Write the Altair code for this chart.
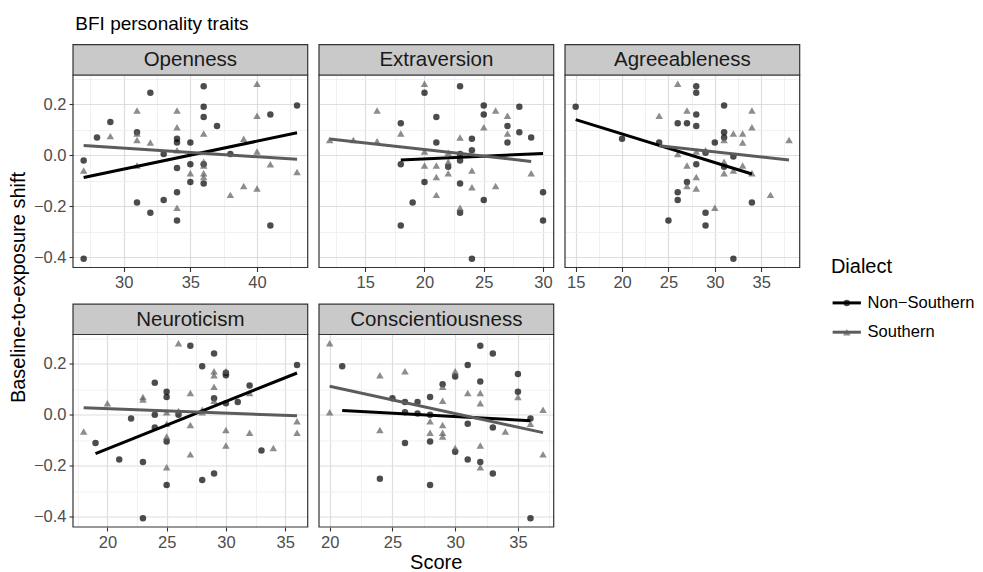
import altair as alt
import pandas as pd

FONT = "Liberation Sans"
INK = "#333333"
W = 234.7          # panel plot width
H = 192.5          # panel plot height

traits = ["Openness", "Extraversion", "Agreeableness", "Neuroticism", "Conscientiousness"]
dialects = ["Non−Southern", "Southern"]
dialect_colors = ["#000000", "#5C5C5C"]
dialect_shapes = ["circle", "triangle-up"]

# Openness
openness_ns_score = [27, 27, 28, 29, 31, 31, 32, 32, 33, 33, 34, 34, 34, 34, 34, 35, 35, 35,
                     36, 36, 36, 36, 36, 37, 38, 41, 41, 43]
openness_ns_shift = [-0.405, -0.02, 0.07, 0.13, 0.09, -0.185, 0.245, -0.225, 0.005, -0.175,
                     0.065, 0.05, -0.05, -0.145, -0.255, 0.05, -0.035, -0.105, 0.27, 0.19,
                     0.15, -0.035, -0.11, 0.115, 0.005, 0.16, -0.275, 0.195]
openness_s_score = [27, 29, 31, 31, 31, 31, 32, 34, 34, 34, 34, 35, 36, 36, 36, 36, 36, 38,
                    39, 39, 40, 40, 40, 40, 41, 43]
openness_s_shift = [-0.06, 0.075, 0.175, 0.085, 0.06, -0.04, 0.05, 0.175, 0.11, 0.02, -0.205,
                    -0.07, 0.085, -0.025, -0.04, -0.07, -0.085, -0.155, 0.065, -0.12, 0.28,
                    0.155, 0.015, -0.13, -0.035, -0.065]

# Extraversion
extraversion_ns_score = [18, 18, 18, 19, 20, 20, 21, 21, 22, 23, 23, 23, 23, 23, 24, 24, 24,
                         25, 25, 25, 27, 27, 28, 28, 29, 30, 30]
extraversion_ns_shift = [0.125, -0.035, -0.275, -0.185, 0.245, -0.105, 0.15, 0.05, -0.045,
                         0.27, 0.005, -0.02, -0.11, -0.225, 0.065, 0.02, -0.405, 0.195, 0.16,
                         -0.175, 0.115, 0.05, 0.19, 0.09, 0.07, -0.145, -0.255]
extraversion_s_score = [12, 14, 16, 16, 18, 20, 20, 20, 21, 21, 21, 22, 22, 22, 23, 23, 24,
                        24, 25, 26, 26, 27, 27, 29]
extraversion_s_shift = [0.06, 0.06, 0.175, 0.055, 0.085, 0.28, 0.015, -0.04, -0.04, -0.085,
                        -0.155, 0.01, -0.025, -0.07, 0.07, -0.205, -0.06, -0.125, 0.11, 0.175,
                        -0.12, 0.155, 0.085, -0.07]

# Agreeableness
agreeableness_ns_score = [15, 20, 24, 25, 26, 26, 26, 27, 27, 28, 28, 28, 28, 28, 29, 29, 29,
                          30, 31, 31, 31, 31, 32, 32, 34]
agreeableness_ns_shift = [0.19, 0.065, 0.05, -0.255, 0.125, -0.145, -0.175, 0.125, -0.105,
                          0.27, 0.245, 0.16, 0.115, -0.035, 0.01, -0.225, -0.275, 0.05, 0.195,
                          0.09, 0.07, -0.045, -0.005, -0.405, -0.185]
agreeableness_s_score = [24, 26, 26, 27, 27, 27, 28, 28, 28, 29, 30, 31, 31, 31, 32, 32, 33,
                         33, 33, 34, 34, 34, 36, 38]
agreeableness_s_shift = [0.155, 0.28, 0.005, 0.175, -0.04, -0.12, 0.015, -0.085, -0.13, 0.02,
                         -0.205, 0.06, -0.025, -0.07, 0.085, -0.06, 0.085, 0.05, -0.04, 0.175,
                         0.11, -0.07, -0.155, 0.06]

# Neuroticism
neuroticism_ns_score = [19, 21, 22, 23, 23, 24, 24, 24, 25, 25, 25, 25, 26, 27, 28, 28, 29, 29,
                        29, 30, 30, 30, 31, 32, 33, 36]
neuroticism_ns_shift = [-0.11, -0.175, -0.015, -0.185, -0.405, 0.125, 0.0, -0.05, 0.09, 0.07,
                        -0.105, -0.275, 0.0, 0.27, 0.19, -0.255, 0.24, 0.065, -0.23, 0.165,
                        0.155, 0.045, 0.05, 0.115, -0.14, 0.195]
neuroticism_s_score = [18, 20, 23, 23, 25, 25, 25, 25, 26, 26, 27, 27, 27, 28, 28, 29, 29, 29,
                       29, 30, 30, 30, 32, 32, 34, 36, 36]
neuroticism_s_shift = [-0.065, 0.045, 0.07, 0.06, 0.01, -0.035, -0.085, -0.205, 0.28, 0.015,
                       0.085, -0.04, -0.155, 0.02, 0.01, 0.17, 0.155, 0.11, 0.055, 0.17, -0.06,
                       -0.12, 0.085, -0.07, -0.13, -0.025, -0.07]

# Conscientiousness
conscientiousness_ns_score = [21, 24, 25, 26, 26, 26, 27, 27, 28, 28, 28, 28, 29, 30, 30, 31,
                              31, 31, 32, 32, 32, 33, 33, 33, 35, 35, 36, 36]
conscientiousness_ns_shift = [0.19, -0.25, 0.065, 0.05, 0.01, -0.11, 0.05, 0.005, 0.07, 0.0,
                              -0.105, -0.275, 0.12, 0.15, -0.145, 0.195, -0.035, -0.175, 0.27,
                              0.13, -0.185, 0.24, -0.05, -0.23, 0.16, 0.09, -0.015, -0.405]
conscientiousness_s_score = [20, 20, 24, 24, 26, 28, 28, 29, 29, 29, 29, 29, 30, 30, 31, 32, 32,
                             32, 32, 34, 35, 36, 37, 37]
conscientiousness_s_shift = [0.28, 0.01, 0.155, -0.06, 0.17, -0.025, -0.07, 0.11, 0.055, -0.04,
                             -0.07, -0.085, 0.17, -0.13, 0.085, 0.085, 0.045, -0.12, -0.205,
                             -0.065, 0.07, -0.035, 0.02, -0.155]

trait_data = {
    "Openness": (openness_ns_score, openness_ns_shift, openness_s_score, openness_s_shift),
    "Extraversion": (extraversion_ns_score, extraversion_ns_shift,
                     extraversion_s_score, extraversion_s_shift),
    "Agreeableness": (agreeableness_ns_score, agreeableness_ns_shift,
                      agreeableness_s_score, agreeableness_s_shift),
    "Neuroticism": (neuroticism_ns_score, neuroticism_ns_shift,
                    neuroticism_s_score, neuroticism_s_shift),
    "Conscientiousness": (conscientiousness_ns_score, conscientiousness_ns_shift,
                          conscientiousness_s_score, conscientiousness_s_shift),
}


def padded(values):
    lo, hi = min(values), max(values)
    pad = (hi - lo) * 0.05
    return [lo - pad, hi + pad]


all_shifts = [v for t in traits for v in trait_data[t][1] + trait_data[t][3]]
y_domain = padded(all_shifts)
y_values = [-0.4, -0.3, -0.2, -0.1, 0.0, 0.1, 0.2, 0.3]
Y_MINOR = "abs(round(datum.value * 10)) % 2 == 1"
X_MINOR = "datum.value % 5 != 0"

color_scale = alt.Scale(domain=dialects, range=dialect_colors)
shape_scale = alt.Scale(domain=dialects, range=dialect_shapes)
size_scale = alt.Scale(domain=dialects, range=[42, 56])


def axis_style(minor_test, show_labels, **kw):
    return alt.Axis(
        title=None, domain=False, labelOverlap=False, labelFlush=False,
        labels=show_labels, ticks=show_labels,
        labelFont=FONT, labelFontSize=16.5, labelColor="#4D4D4D", labelPadding=3,
        tickColor=INK, tickSize=4, tickWidth=1.1,
        tickOpacity={"condition": {"test": minor_test, "value": 0}, "value": 1},
        gridColor={"condition": {"test": minor_test, "value": "#EFEFEF"}, "value": "#DEDEDE"},
        gridWidth={"condition": {"test": minor_test, "value": 0.9}, "value": 1.2},
        **kw,
    )


def panel(name, show_y, extras=()):
    ns_score, ns_shift, s_score, s_shift = trait_data[name]
    df = pd.DataFrame({
        "score": ns_score + s_score,
        "shift": ns_shift + s_shift,
        "Dialect": [dialects[0]] * len(ns_score) + [dialects[1]] * len(s_score),
    })
    x_domain = padded(df["score"])
    lo, hi = x_domain
    x_values = sorted([v / 2 for v in range(0, 200, 5) if lo <= v / 2 <= hi])

    x_axis = axis_style(X_MINOR, True, values=x_values, format="d",
                        labelExpr=f"{X_MINOR} ? '' : datum.label")
    y_axis = axis_style(Y_MINOR, show_y, values=y_values, format=".1f",
                        labelExpr=f"{Y_MINOR} ? '' : datum.label")

    base = alt.Chart(df).encode(
        x=alt.X("score:Q", scale=alt.Scale(domain=x_domain, nice=False, zero=False), axis=x_axis),
        y=alt.Y("shift:Q", scale=alt.Scale(domain=y_domain, nice=False, zero=False), axis=y_axis),
        color=alt.Color("Dialect:N", scale=color_scale, legend=None),
    )
    points = base.mark_point(filled=True, opacity=0.7, strokeWidth=0).encode(
        shape=alt.Shape("Dialect:N", scale=shape_scale, legend=None),
        size=alt.Size("Dialect:N", scale=size_scale, legend=None),
    )
    fits = base.transform_regression(
        "score", "shift", groupby=["Dialect"]
    ).mark_line(strokeWidth=3)

    label = pd.DataFrame({"label": [name]})
    frame = alt.Chart(label).mark_rect(
        fillOpacity=0, stroke=INK, strokeWidth=1.2
    ).encode(x=alt.value(0), x2=alt.value(W), y=alt.value(0), y2=alt.value(H))
    strip = alt.Chart(label).mark_rect(
        fill="#C9C9C9", stroke=INK, strokeWidth=1.2
    ).encode(x=alt.value(0), x2=alt.value(W), y=alt.value(-30.3), y2=alt.value(0))
    strip_text = alt.Chart(label).mark_text(
        font=FONT, fontSize=20.5, color="#1A1A1A", baseline="middle", align="center"
    ).encode(x=alt.value(W / 2), y=alt.value(-15), text="label:N")

    return alt.layer(points, fits, frame, strip, strip_text, *extras).properties(
        width=W, height=H
    )


def free_text(text, size, x, y, angle=0, align="left", baseline="alphabetic", color="#000000"):
    return alt.Chart(pd.DataFrame({"t": [text]})).mark_text(
        font=FONT, fontSize=size, angle=angle, align=align, baseline=baseline, color=color
    ).encode(x=alt.value(x), y=alt.value(y), text="t:N")


title = free_text("BFI personality traits", 19, 2.3, -45.3)
y_title = free_text("Baseline-to-exposure shift", 20, -54.4, 212.5,
                    angle=270, align="center", baseline="middle")
x_title = free_text("Score", 20, 117.2, 234.5, align="center")

# legend: one row per dialect, line key with the point underneath
leg = pd.DataFrame({"Dialect": dialects})
leg_y = alt.Y("Dialect:N", axis=None,
              scale=alt.Scale(type="point", domain=dialects, range=[-31.6, -2.3], padding=0))
leg_color = alt.Color("Dialect:N", scale=color_scale, legend=None)
leg_points = alt.Chart(leg).mark_point(filled=True, opacity=0.7, strokeWidth=0).encode(
    x=alt.value(281.8), y=leg_y, color=leg_color,
    shape=alt.Shape("Dialect:N", scale=shape_scale, legend=None),
    size=alt.Size("Dialect:N", scale=size_scale, legend=None),
)
leg_lines = alt.Chart(leg).mark_rule(strokeWidth=3).encode(
    x=alt.value(267.6), x2=alt.value(295.9), y=leg_y, color=leg_color
)
leg_labels = alt.Chart(leg).mark_text(
    font=FONT, fontSize=16.5, align="left", baseline="middle", color="#000000"
).encode(x=alt.value(302.6), y=leg_y, text="Dialect:N")
leg_title = free_text("Dialect", 20, 265.9, -61.6)
legend = alt.layer(leg_points, leg_lines, leg_labels, leg_title).properties(width=W, height=H)

chart = alt.concat(
    panel("Openness", True, extras=(title, y_title)),
    panel("Extraversion", False),
    panel("Agreeableness", False),
    panel("Neuroticism", True),
    panel("Conscientiousness", False, extras=(x_title,)),
    legend,
    columns=3,
    spacing=alt.RowColnumber(row=66.5, column=11),
    bounds="flush",
).properties(
    padding={"left": 8, "top": 14, "right": 0, "bottom": 0}
).configure_view(stroke="transparent")

chart.save("out.html", embed_options={"renderer": "svg", "actions": False})
